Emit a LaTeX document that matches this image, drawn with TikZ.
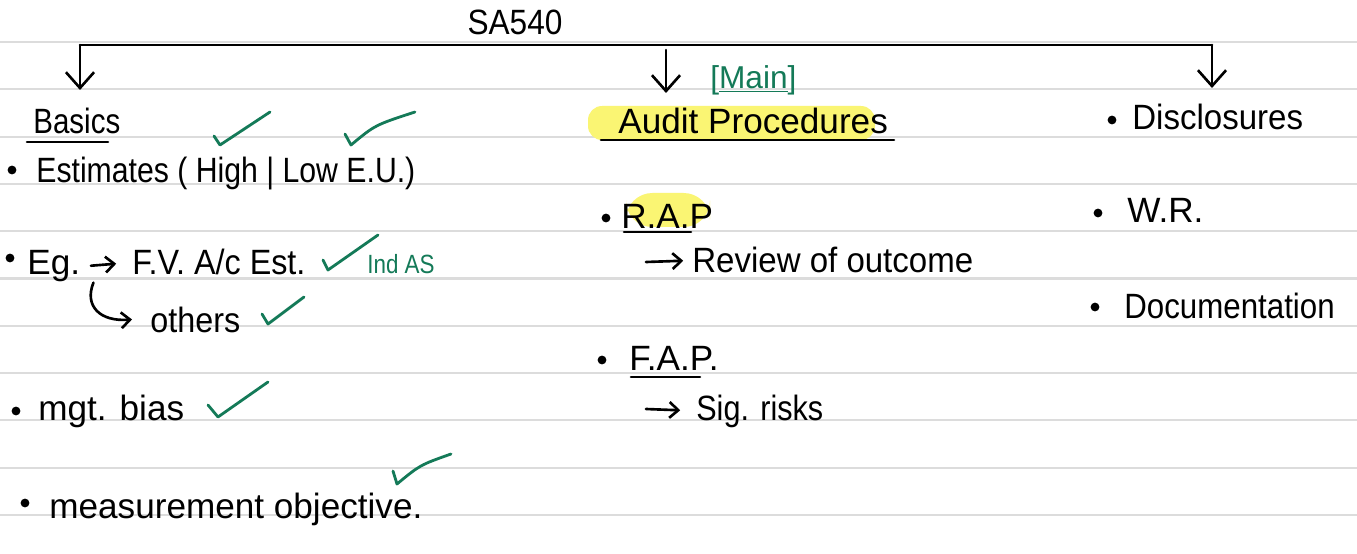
\documentclass[tikz,border=0pt]{standalone}
\usepackage{fontspec}
\setmainfont{Liberation Sans}
\usetikzlibrary{arrows.meta}
\definecolor{inkgreen}{RGB}{20,122,88}
\definecolor{marker}{RGB}{250,245,115}
\definecolor{ruling}{RGB}{220,220,220}

\begin{document}
\begin{tikzpicture}[x=0.02cm,y=-0.02cm]
  \tikzset{ t/.style={anchor=base west,inner sep=0pt,font=\fontsize{20}{24}\selectfont},
    w/.style={font=\fontsize{20}{24}\selectfont\addfontfeatures{FakeStretch=#1}},
    g/.style={anchor=base west,inner sep=0pt,text=inkgreen,font=\fontsize{14}{17}\selectfont},
    dot/.style={circle,fill=black,inner sep=0pt,minimum size=5pt},
    ink/.style={line width=1.5pt,line cap=round,line join=round},
    arr/.style={ink,-{Straight Barb[length=9pt,width=16pt]}},
    sarr/.style={ink,-{Straight Barb[length=5pt,width=9pt]}},
    ok/.style={draw=inkgreen,line width=1.6pt,line cap=round,line join=round},
    hl/.style={fill=marker,rounded corners=8pt},
  }
  \useasboundingbox (0,0) rectangle (1357,554);
  \fill[white] (0,0) rectangle (1357,554);

  % the ruled lines of the page
  \foreach \i in {0,...,10}
    \draw[ruling,line width=1.2pt] (0,{42+47.3*\i}) -- (1357,{42+47.3*\i});

  % marker
  \fill[hl] (588,106) rectangle (875,140);
  \fill[hl,rounded corners=15pt] (626,193) rectangle (710,227);

  \node[t,w=0.9,anchor=base] (sa) at (515,35) {SA540};

  % left column
  \node[t,w=0.84] (basics) at (33,133) {Basics};
  \node[dot] (d1) at (12,170) {};
  \node[t,w=0.86] (est) at (36,183) {Estimates ( High | Low E.U.)};
  \node[dot] (d2) at (10,258) {};
  \node[t] (eg) at (27,275) {Eg.};
  \node[t,w=0.92] (fv) at (132,275) {F.V. A/c Est.};
  \node[g,font=\fontsize{15}{18}\selectfont\addfontfeatures{FakeStretch=0.85}] (indas) at (367,274) {Ind AS};
  \node[t,w=0.92] (others) at (150,332) {others};
  \node[dot] (d3) at (16,411) {};
  \node[t] (bias) at (38,420) {mgt. bias};
  \node[dot] (d4) at (25,503) {};
  \node[t] (meas) at (49,518) {measurement objective.};

  % middle column
  \node[g,font=\fontsize{18}{21}\selectfont] (main) at (710,89) {[\underline{Main}]};
  \node[t] (audit) at (618,133) {Audit Procedures};
  \node[dot] (d5) at (606,218) {};
  \node[t] (rap) at (621,229) {R.A.P};
  \coordinate (r0) at (646,262);
  \node[t,w=0.94] (rev) at (692,273) {Review of outcome};
  \node[dot] (d6) at (602,360) {};
  \node[t] (fap) at (629,370) {F.A.P.};
  \coordinate (s0) at (646,409);
  \node[t,w=0.87] (sig) at (696,420) {Sig. risks};

  % right column
  \node[dot] (d7) at (1112,120) {};
  \node[t,w=0.94] (disc) at (1132,130) {Disclosures};
  \node[dot] (d8) at (1098,213) {};
  \node[t] (wr) at (1127,223) {W.R.};
  \node[dot] (d9) at (1095,307) {};
  \node[t,w=0.89] (doc) at (1124,318) {Documentation};

  % the bracket under the title
  \coordinate (bl) at (80,45);
  \coordinate (br) at (1212,45);
  \coordinate (tl) at (80,90);
  \coordinate (m0) at (666,50);
  \coordinate (tm) at (666,93);
  \coordinate (tr) at (1212,88);
  \draw[ink] (bl) -- (br);
  \draw[arr] (bl) -- (tl);
  \draw[arr] (m0) -- (tm);
  \draw[arr] (br) -- (tr);

  % underlines
  \draw[ink] (27,142) -- (108,142);
  \draw[ink] (601,140) -- (894,140);
  \draw[ink] (624,232) -- (691,232);
  \draw[ink] (631,377) -- (700,377);

  % the small arrows
  \draw[sarr,shorten <=6pt,shorten >=9pt] (eg.east) -- (fv.west);
  \draw[sarr] ([xshift=0.26cm]eg.south east) .. controls (84,306) and (100,322) .. ([xshift=-0.36cm]others.west);
  \draw[sarr,shorten >=5pt] (r0) -- (rev.west);
  \draw[sarr,shorten >=9pt] (s0) -- (sig.west);

  % green ticks
  \draw[ok] (214,136) -- (220,145) -- (270,112);
  \draw[ok] (345,134) -- (351,145) .. controls (375,125) .. (415,112);
  \draw[ok] (323,260) -- (328,270) -- (378,235);
  \draw[ok] (262,314) -- (268,324) -- (304,297);
  \draw[ok] (208,405) -- (218,417) -- (268,382);
  \draw[ok] (393,471) -- (397,484) .. controls (420,465) .. (451,454);
\end{tikzpicture}
\end{document}
